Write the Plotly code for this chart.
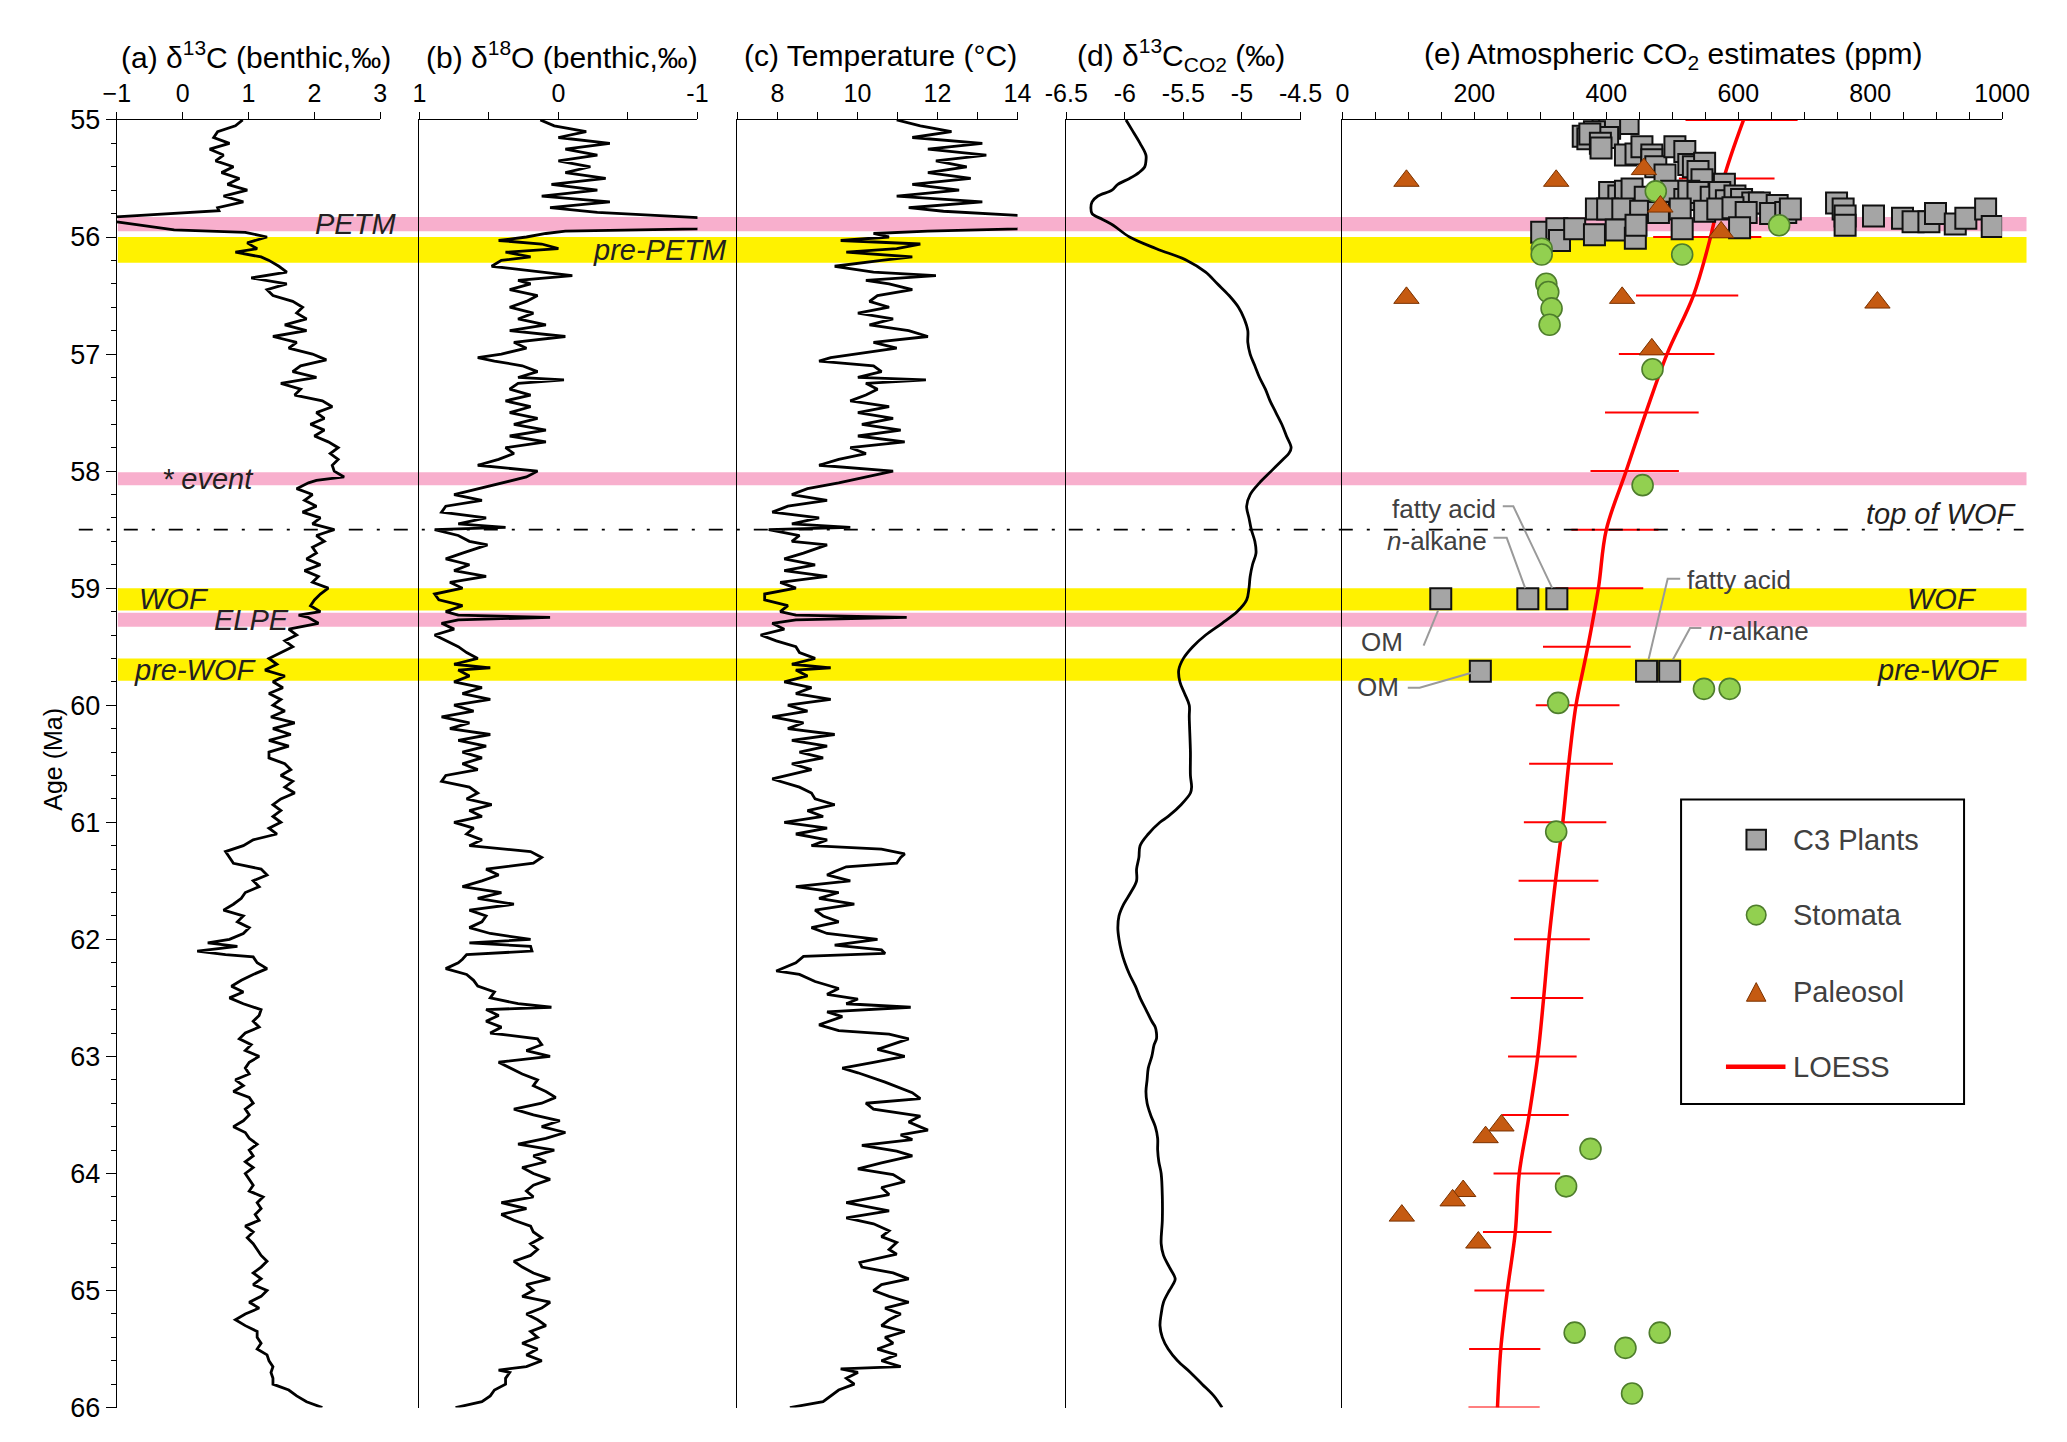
import plotly.graph_objects as go

W, H = 2067, 1442
FONT = "Arial, Liberation Sans, Helvetica, sans-serif"

# ---------------- (a) benthic d13C ----------------
age_a = [55.00,55.05,55.10,55.15,55.20,55.25,55.30,55.35,55.40,55.45,55.50,55.55,55.60,55.65,55.70,55.75,
         55.775,55.825,55.845,55.87,55.94,55.96,56.00,56.05,56.10,56.13,56.17,56.20,56.25,56.30,56.35,56.40,
         56.45,56.50,56.55,56.60,56.65,56.70,56.75,56.80,56.85,56.90,56.95,57.00,57.05,57.10,57.15,57.20,
         57.25,57.30,57.35,57.40,57.45,57.50,57.55,57.60,57.65,57.70,57.75,57.80,57.85,57.90,57.95,58.00,
         58.05,58.08,58.10,58.15,58.20,58.25,58.30,58.35,58.40,58.45,58.50,58.55,58.60,58.65,58.70,58.75,
         58.80,58.85,58.90,58.95,59.00,59.05,59.10,59.15,59.20,59.23,59.25,59.30,59.35,59.40,59.45,59.50,
         59.55,59.60,59.65,59.70,59.75,59.80,59.85,59.90,59.95,60.00,60.05,60.10,60.15,60.20,60.25,60.30,
         60.35,60.40,60.45,60.50,60.55,60.60,60.65,60.70,60.75,60.80,60.85,60.90,60.95,61.00,61.05,61.10,
         61.15,61.20,61.25,61.30,61.35,61.40,61.45,61.50,61.55,61.60,61.65,61.70,61.75,61.80,61.85,61.90,
         61.95,62.00,62.03,62.06,62.10,62.13,62.15,62.20,62.25,62.30,62.35,62.40,62.45,62.50,62.55,62.60,
         62.65,62.70,62.75,62.80,62.85,62.90,62.95,63.00,63.05,63.10,63.15,63.20,63.25,63.30,63.35,63.40,
         63.45,63.50,63.55,63.60,63.65,63.70,63.75,63.80,63.85,63.90,63.95,64.00,64.05,64.10,64.15,64.20,
         64.25,64.30,64.35,64.40,64.45,64.50,64.55,64.60,64.65,64.70,64.75,64.80,64.85,64.90,64.95,65.00,
         65.05,65.10,65.15,65.20,65.25,65.30,65.35,65.40,65.45,65.50,65.55,65.60,65.65,65.70,65.75,65.80,
         65.85,65.90,65.95,66.00]
d13c = [0.91,0.80,0.53,0.47,0.71,0.41,0.62,0.50,0.77,0.59,0.86,0.68,0.98,0.62,0.92,0.53,
        0.55,-1.0,-1.5,-1.0,-0.13,0.95,1.28,0.98,1.13,0.80,1.19,1.31,1.46,1.58,1.04,1.58,
        1.28,1.37,1.67,1.82,1.73,1.88,1.55,1.88,1.37,1.73,1.61,1.97,2.18,1.79,1.67,2.03,
        1.49,1.79,1.70,2.12,2.27,2.03,2.15,1.94,2.15,2.00,2.21,2.36,2.24,2.36,2.27,2.30,
        2.45,2.03,1.91,1.73,1.97,1.85,2.03,1.82,2.09,1.97,2.30,2.03,2.15,1.97,2.03,1.88,
        2.09,1.85,2.06,1.97,2.21,2.09,2.00,1.94,2.09,1.76,1.91,2.06,1.61,1.73,1.55,1.67,
        1.49,1.31,1.43,1.25,1.55,1.37,1.52,1.31,1.49,1.37,1.55,1.34,1.70,1.37,1.64,1.31,
        1.61,1.31,1.31,1.55,1.64,1.49,1.67,1.55,1.70,1.49,1.37,1.49,1.37,1.49,1.31,1.43,
        1.07,0.92,0.65,0.71,0.77,1.19,1.28,1.07,1.16,0.95,0.89,0.77,0.62,0.92,0.83,1.01,
        0.92,0.71,0.38,0.83,0.22,0.65,1.07,1.13,1.28,1.07,0.89,0.74,0.92,0.71,0.92,1.19,
        1.16,1.07,1.16,0.95,0.86,1.04,0.95,1.16,1.01,0.95,1.01,0.80,0.92,0.77,1.01,1.07,
        0.95,1.01,0.92,0.77,0.95,1.01,1.13,1.01,1.07,0.95,1.07,0.95,1.01,1.07,1.01,1.22,
        1.13,1.19,1.10,1.16,0.95,1.07,0.98,1.07,1.13,1.19,1.28,1.19,1.07,1.19,1.07,1.28,
        1.19,1.01,1.16,0.95,0.80,0.95,1.13,1.13,1.19,1.13,1.28,1.31,1.37,1.34,1.37,1.37,
        1.61,1.73,1.88,2.12]

# ---------------- (b) benthic d18O ----------------
age_b = [55.00,55.05,55.10,55.15,55.20,55.25,55.30,55.35,55.40,55.45,55.50,55.55,55.60,55.65,55.70,55.75,
         55.79,55.82,55.87,55.93,55.95,55.97,56.00,56.03,56.06,56.10,56.13,56.17,56.20,56.25,56.30,56.33,
         56.37,56.40,56.45,56.50,56.55,56.60,56.65,56.70,56.75,56.80,56.85,56.90,56.95,57.00,57.03,57.06,
         57.10,57.15,57.20,57.22,57.25,57.30,57.35,57.40,57.45,57.50,57.55,57.60,57.65,57.70,57.75,57.80,
         57.85,57.90,57.95,58.00,58.05,58.10,58.15,58.20,58.25,58.30,58.35,58.40,58.45,58.48,58.50,58.55,
         58.60,58.63,58.70,58.75,58.80,58.85,58.90,58.95,59.00,59.05,59.10,59.15,59.20,59.23,59.25,59.27,
         59.30,59.35,59.40,59.45,59.50,59.55,59.60,59.65,59.68,59.70,59.75,59.80,59.85,59.90,59.95,60.00,
         60.05,60.10,60.15,60.20,60.25,60.30,60.35,60.40,60.45,60.50,60.55,60.60,60.65,60.70,60.75,60.80,
         60.85,60.90,60.95,61.00,61.05,61.10,61.15,61.20,61.25,61.30,61.35,61.40,61.45,61.50,61.55,61.60,
         61.65,61.70,61.75,61.80,61.85,61.90,61.95,62.00,62.03,62.06,62.10,62.13,62.17,62.20,62.25,62.30,
         62.35,62.40,62.45,62.50,62.55,62.58,62.60,62.65,62.70,62.75,62.80,62.85,62.90,62.95,63.00,63.05,
         63.10,63.15,63.20,63.25,63.30,63.35,63.40,63.45,63.50,63.55,63.60,63.65,63.70,63.75,63.80,63.85,
         63.90,63.95,64.00,64.05,64.10,64.15,64.20,64.25,64.30,64.35,64.40,64.45,64.50,64.55,64.60,64.65,
         64.70,64.75,64.80,64.85,64.90,64.95,65.00,65.05,65.10,65.15,65.20,65.25,65.30,65.35,65.40,65.45,
         65.50,65.55,65.60,65.65,65.68,65.70,65.75,65.80,65.85,65.90,65.95,66.00]
d18o = [0.13,0.03,-0.20,0.00,-0.37,-0.05,-0.28,0.00,-0.23,-0.05,-0.34,0.05,-0.28,0.12,-0.37,0.06,
        -0.28,-1.0,-1.6,-1.0,-0.05,0.09,0.23,0.43,0.12,0.00,0.38,0.20,0.41,0.48,0.12,-0.10,
        0.29,0.20,0.35,0.15,0.23,0.35,0.18,0.29,0.09,0.35,-0.05,0.32,0.23,0.41,0.58,0.46,
        0.26,0.15,0.29,-0.04,0.29,0.35,0.20,0.38,0.20,0.35,0.15,0.32,0.09,0.35,0.09,0.38,
        0.32,0.43,0.58,0.15,0.23,0.41,0.58,0.75,0.55,0.81,0.84,0.52,0.72,0.38,0.89,0.72,
        0.64,0.51,0.69,0.81,0.64,0.75,0.52,0.78,0.69,0.89,0.86,0.69,0.81,0.72,0.06,0.72,
        0.84,0.75,0.89,0.81,0.72,0.66,0.58,0.75,0.49,0.72,0.64,0.75,0.55,0.69,0.49,0.75,
        0.61,0.84,0.64,0.78,0.49,0.72,0.52,0.69,0.55,0.69,0.58,0.81,0.84,0.64,0.58,0.66,
        0.48,0.64,0.55,0.75,0.61,0.66,0.55,0.64,0.20,0.12,0.18,0.52,0.43,0.55,0.69,0.41,
        0.58,0.32,0.64,0.52,0.55,0.64,0.49,0.20,0.64,0.20,0.19,0.66,0.69,0.72,0.81,0.66,
        0.61,0.58,0.46,0.49,0.29,0.05,0.52,0.43,0.52,0.41,0.49,0.15,0.12,0.23,0.06,0.43,
        0.35,0.26,0.15,0.18,0.09,0.02,0.12,0.32,0.18,-0.01,0.12,-0.05,0.09,0.29,0.03,0.18,
        0.09,0.26,0.18,0.06,0.18,0.23,0.18,0.41,0.23,0.41,0.32,0.20,0.18,0.12,0.20,0.15,
        0.20,0.32,0.26,0.18,0.06,0.23,0.18,0.26,0.06,0.12,0.23,0.15,0.09,0.20,0.15,0.26,
        0.15,0.23,0.12,0.23,0.43,0.35,0.38,0.38,0.46,0.49,0.55,0.74]

# ---------------- (c) temperature ----------------
age_c = [55.00,55.05,55.10,55.15,55.20,55.25,55.30,55.35,55.40,55.45,55.50,55.55,55.60,55.65,55.70,55.75,
         55.78,55.815,55.87,55.93,55.95,55.97,56.00,56.03,56.06,56.10,56.13,56.17,56.20,56.25,56.30,56.33,
         56.37,56.40,56.45,56.50,56.55,56.60,56.65,56.70,56.75,56.80,56.85,56.90,56.95,57.00,57.03,57.06,
         57.10,57.15,57.20,57.22,57.25,57.30,57.35,57.40,57.45,57.50,57.55,57.60,57.65,57.70,57.75,57.80,
         57.85,57.90,57.95,58.00,58.05,58.10,58.15,58.20,58.25,58.30,58.35,58.40,58.45,58.48,58.50,58.55,
         58.60,58.63,58.70,58.75,58.80,58.85,58.90,58.95,59.00,59.05,59.10,59.15,59.20,59.23,59.25,59.27,
         59.30,59.35,59.40,59.45,59.50,59.55,59.60,59.65,59.68,59.70,59.75,59.80,59.85,59.90,59.95,60.00,
         60.05,60.10,60.15,60.20,60.25,60.30,60.35,60.40,60.45,60.50,60.55,60.60,60.63,60.70,60.75,60.80,
         60.85,60.90,60.95,61.00,61.05,61.10,61.15,61.20,61.23,61.27,61.30,61.35,61.38,61.42,61.45,61.50,
         61.55,61.60,61.65,61.70,61.75,61.80,61.85,61.90,61.95,62.00,62.05,62.09,62.12,62.145,62.20,62.27,
         62.30,62.36,62.42,62.47,62.51,62.55,62.58,62.62,62.66,62.73,62.78,62.81,62.85,62.94,63.00,63.05,
         63.10,63.14,63.22,63.31,63.36,63.40,63.45,63.51,63.56,63.63,63.67,63.71,63.76,63.81,63.85,63.91,
         63.96,64.01,64.07,64.12,64.18,64.25,64.29,64.32,64.38,64.43,64.49,64.54,64.59,64.65,64.69,64.76,
         64.80,64.85,64.90,64.95,65.00,65.05,65.10,65.15,65.20,65.25,65.30,65.35,65.40,65.45,65.50,65.55,
         65.60,65.65,65.67,65.70,65.75,65.80,65.85,65.90,65.95,66.00]
temp = [10.98,11.57,12.35,11.37,13.12,11.76,13.22,11.96,12.73,11.76,12.83,11.37,12.54,10.98,13.12,11.28,
        12.15,14.0,15.5,14.0,11.76,10.40,10.79,9.58,11.57,10.98,9.72,11.37,10.60,9.43,10.40,11.96,
        10.21,10.79,11.37,10.50,10.30,10.79,10.01,10.89,10.30,11.28,11.76,10.40,10.98,10.01,9.33,9.04,
        10.40,10.60,10.01,11.71,10.21,10.50,10.21,9.82,10.79,10.01,10.89,10.11,11.08,10.01,11.18,9.82,
        10.21,9.53,9.04,10.89,10.21,9.53,8.75,8.36,9.24,8.26,7.87,9.04,8.36,9.82,7.78,8.55,
        8.36,9.24,8.65,8.17,8.94,8.17,9.24,8.07,8.46,7.68,7.68,8.26,8.07,8.46,11.23,8.46,
        7.87,8.17,7.58,7.97,8.46,8.55,8.94,8.36,9.33,8.46,8.75,8.17,8.85,8.46,9.33,8.26,
        8.75,7.87,8.65,8.26,9.43,8.36,9.24,8.55,9.14,8.36,8.85,8.21,7.87,8.55,8.85,8.94,
        9.43,8.75,9.14,8.17,9.24,8.46,9.24,8.85,10.60,11.18,11.08,10.98,9.72,9.43,9.24,9.82,
        8.46,9.53,9.04,9.92,8.94,9.14,9.53,8.85,9.24,10.50,9.43,10.60,10.69,8.65,8.46,7.97,
        8.55,8.94,9.53,9.24,10.01,9.72,11.33,9.24,9.62,9.04,9.53,10.79,11.28,10.50,11.18,10.40,
        9.62,10.01,10.69,11.37,11.57,10.21,10.40,11.57,11.28,11.76,11.08,11.37,10.11,10.98,11.37,10.60,
        10.01,10.89,11.18,10.60,10.79,9.72,10.30,10.79,9.72,10.40,10.79,10.60,10.98,10.79,10.98,10.06,
        10.11,10.89,11.28,10.60,10.40,10.79,11.28,10.69,11.08,10.79,10.60,11.18,10.69,10.89,10.50,10.98,
        10.60,11.08,9.58,10.01,9.72,9.92,9.53,9.33,9.14,8.31]

# ---------------- (d) d13C of CO2 ----------------
age_d = [55.0,55.1,55.2,55.3,55.35,55.4,55.45,55.5,55.55,55.6,55.65,55.7,55.75,55.8,55.85,55.9,
         56.0,56.1,56.2,56.3,56.4,56.5,56.6,56.7,56.8,56.9,57.0,57.1,57.2,57.3,57.4,57.5,
         57.6,57.7,57.8,57.85,57.9,58.0,58.1,58.2,58.3,58.4,58.5,58.6,58.7,58.8,58.9,59.0,
         59.1,59.2,59.3,59.4,59.5,59.6,59.7,59.8,59.9,60.0,60.1,60.4,60.6,60.7,60.75,60.85,
         60.95,61.0,61.1,61.2,61.3,61.4,61.5,61.6,61.7,61.8,61.9,62.0,62.1,62.2,62.3,62.4,
         62.5,62.6,62.7,62.75,62.8,62.85,62.9,63.0,63.1,63.2,63.3,63.4,63.5,63.6,63.7,63.8,
         63.9,64.0,64.2,64.4,64.6,64.7,64.8,64.9,64.95,65.0,65.1,65.2,65.3,65.4,65.5,65.6,
         65.7,65.8,65.9,66.0]
d13c_co2 = [-5.99,-5.93,-5.87,-5.82,-5.82,-5.83,-5.88,-5.96,-6.06,-6.11,-6.23,-6.28,-6.29,-6.28,-6.19,-6.10,
            -5.96,-5.73,-5.47,-5.31,-5.21,-5.11,-5.03,-4.98,-4.95,-4.95,-4.93,-4.89,-4.85,-4.80,-4.76,-4.71,
            -4.66,-4.62,-4.58,-4.60,-4.65,-4.75,-4.85,-4.93,-4.96,-4.94,-4.92,-4.89,-4.88,-4.91,-4.93,-4.94,
            -4.96,-5.04,-5.17,-5.31,-5.42,-5.50,-5.54,-5.53,-5.49,-5.45,-5.45,-5.44,-5.44,-5.43,-5.44,-5.52,
            -5.63,-5.70,-5.80,-5.87,-5.88,-5.90,-5.90,-5.95,-6.01,-6.05,-6.06,-6.05,-6.03,-6.00,-5.96,-5.91,
            -5.87,-5.82,-5.77,-5.74,-5.73,-5.73,-5.75,-5.77,-5.80,-5.81,-5.82,-5.81,-5.78,-5.74,-5.72,-5.72,
            -5.71,-5.69,-5.68,-5.68,-5.69,-5.67,-5.62,-5.57,-5.59,-5.62,-5.67,-5.69,-5.70,-5.68,-5.63,-5.55,
            -5.44,-5.34,-5.24,-5.17]

# ---------------- (e) CO2 proxies ----------------
c3_ppm = [433,395,405,382,365,372,402,375,391,392,429,445,454,469,469,475,489,504,519,525,532,549,539,545,579,
          405,419,429,439,459,485,499,519,525,539,559,572,582,595,605,622,632,659,
          385,402,425,452,479,512,549,569,592,612,649,672,679,749,759,762,762,805,849,865,889,899,929,945,975,985,
          302,325,329,352,382,415,444,445,515,602,
          149,281,325,209,461,496]
c3_age = [55.03,55.04,55.07,55.10,55.14,55.16,55.15,55.12,55.20,55.24,55.30,55.29,55.23,55.30,55.34,55.40,55.47,55.23,55.27,55.38,55.40,55.37,55.44,55.51,55.55,
          55.62,55.65,55.61,55.59,55.66,55.64,55.61,55.68,55.61,55.62,55.66,55.62,55.69,55.65,55.68,55.71,55.71,55.73,
          55.76,55.76,55.76,55.78,55.79,55.76,55.78,55.76,55.75,55.79,55.80,55.79,55.76,55.71,55.76,55.82,55.90,55.82,55.84,55.87,55.87,55.80,55.89,55.84,55.76,55.91,
          55.96,55.93,56.03,55.93,55.98,55.94,56.01,55.90,55.93,55.92,
          59.09,59.09,59.09,59.71,59.71,59.71]

stom_ppm = [475,662,302,302,515,309,312,317,314,470,455,327,548,587,324,376,339,352,429,481,439]
stom_age = [55.61,55.90,56.10,56.15,56.15,56.40,56.47,56.61,56.75,57.13,58.12,59.98,59.86,59.86,61.08,
            63.79,64.11,65.36,65.49,65.36,65.88]

pal_ppm = [97,324,457,482,574,97,424,811,469,241,217,183,167,90,206]
pal_age = [55.52,55.52,55.42,55.74,55.96,56.52,56.52,56.56,56.96,63.59,63.69,64.15,64.23,64.36,64.59]

loess_age = [55.0,55.5,56.0,56.5,57.0,57.5,58.0,58.5,59.0,59.5,60.0,60.5,61.0,61.5,62.0,62.5,
             63.0,63.5,64.0,64.5,65.0,65.5,66.0]
loess_ppm = [608,578,558,532,492,460,430,400,388,372,354,343,334,323,313,305,296,283,268,262,250,240,235]
loess_lo = [520,510,471,445,419,398,376,347,323,304,293,283,275,267,260,255,251,242,229,213,200,192,191]
loess_hi = [690,655,635,600,564,540,510,479,456,437,420,410,400,388,375,365,355,343,330,317,306,300,299]

# event bands (age limits)
band_top = [55.83, 56.00, 58.01, 59.00, 59.21, 59.60]
band_bot = [55.95, 56.22, 58.12, 59.19, 59.33, 59.79]
band_kind = ["pink", "yellow", "pink", "yellow", "pink", "yellow"]
top_of_wof = 58.5

legend_names = ["C3 Plants", "Stomata", "Paleosol", "LOESS"]

PINK = "#f8afcd"
YELLOW = "#fff200"
C3_FILL, C3_EDGE = "#a5a5a5", "#111111"
ST_FILL, ST_EDGE = "#92d050", "#4e7d2c"
PA_FILL, PA_EDGE = "#c55a11", "#7a3200"
RED = "#ff0000"


def px(x):
    return x / W


def py(y):
    return 1 - y / H


doms = [[px(89), px(359)], [px(399), px(684)], [px(725), px(1012)], [px(1062), px(1302)], [px(1345), px(2021)]]
YD = [py(1414), py(99)]

fig = go.Figure()
line_style = dict(color="black", width=2.8)
fig.add_trace(go.Scatter(x=d13c, y=age_a, xaxis="x", yaxis="y", mode="lines", line=line_style, showlegend=False))
fig.add_trace(go.Scatter(x=d18o, y=age_b, xaxis="x2", yaxis="y2", mode="lines", line=line_style, showlegend=False))
fig.add_trace(go.Scatter(x=temp, y=age_c, xaxis="x3", yaxis="y3", mode="lines", line=line_style, showlegend=False))
fig.add_trace(go.Scatter(x=d13c_co2, y=age_d, xaxis="x4", yaxis="y4", mode="lines",
                         line=dict(color="black", width=2.8, shape="spline"), showlegend=False))

fig.add_trace(go.Scatter(x=loess_ppm, y=loess_age, xaxis="x5", yaxis="y5", mode="lines", name=legend_names[3],
                         showlegend=False,
                         line=dict(color=RED, width=3.5, shape="spline"),
                         error_x=dict(type="data", symmetric=False,
                                      array=[h - c for h, c in zip(loess_hi, loess_ppm)],
                                      arrayminus=[c - l for c, l in zip(loess_ppm, loess_lo)],
                                      color=RED, thickness=2, width=0)))
fig.add_trace(go.Scatter(x=c3_ppm, y=c3_age, xaxis="x5", yaxis="y5", mode="markers", name=legend_names[0],
                         showlegend=False,
                         marker=dict(symbol="square", size=21, color=C3_FILL, line=dict(color=C3_EDGE, width=2))))
fig.add_trace(go.Scatter(x=stom_ppm, y=stom_age, xaxis="x5", yaxis="y5", mode="markers", name=legend_names[1],
                         showlegend=False,
                         marker=dict(symbol="circle", size=21, color=ST_FILL, line=dict(color=ST_EDGE, width=1.6))))
fig.add_trace(go.Scatter(x=pal_ppm, y=pal_age, xaxis="x5", yaxis="y5", mode="markers", name=legend_names[2],
                         showlegend=False,
                         marker=dict(symbol="triangle-up", size=22, color=PA_FILL, line=dict(color=PA_EDGE, width=1))))

tickfont = dict(family=FONT, size=25, color="black")
common_x = dict(side="top", showline=True, linecolor="black", linewidth=1.4, ticks="outside", ticklen=7,
                tickwidth=1.4, tickcolor="black", showgrid=False, zeroline=False, tickfont=tickfont, fixedrange=True)
minor_x = dict(ticks="outside", ticklen=7, tickwidth=1.4, tickcolor="black", showgrid=False)

layout = dict(
    width=W, height=H, margin=dict(l=0, r=0, t=0, b=0), showlegend=False,
    paper_bgcolor="white", plot_bgcolor="rgba(0,0,0,0)",
    font=dict(family=FONT, color="black"),
    xaxis=dict(domain=doms[0], range=[-1, 3], anchor="y", tickvals=[-1, 0, 1, 2, 3], **common_x),
    xaxis2=dict(domain=doms[1], range=[1, -1], anchor="y2", tickvals=[1, 0, -1], ticktext=["1", "0", "-1"],
                minor=dict(dtick=0.5, tick0=-1, **minor_x), **common_x),
    xaxis3=dict(domain=doms[2], range=[7, 14], anchor="y3", tickvals=[8, 10, 12, 14],
                minor=dict(dtick=1, tick0=7, **minor_x), **common_x),
    xaxis4=dict(domain=doms[3], range=[-6.5, -4.5], anchor="y4", tickvals=[-6.5, -6, -5.5, -5, -4.5],
                ticktext=["-6.5", "-6", "-5.5", "-5", "-4.5"], **common_x),
    xaxis5=dict(domain=doms[4], range=[0, 1000], anchor="y5", tickvals=list(range(0, 1001, 200)),
                minor=dict(dtick=50, tick0=0, **minor_x), **common_x),
    yaxis=dict(domain=YD, range=[66, 55], anchor="x", tickvals=list(range(55, 67)), showline=True,
               linecolor="black", linewidth=1.4, ticks="outside", ticklen=10, tickwidth=1.4, tickcolor="black",
               tickfont=dict(family=FONT, size=27, color="black"), showgrid=False, zeroline=False,
               fixedrange=True,
               minor=dict(dtick=0.2, tick0=55, ticks="outside", ticklen=5, tickwidth=1.2, tickcolor="black",
                          showgrid=False)),
)
for i in range(2, 6):
    layout["yaxis%d" % i] = dict(domain=YD, range=[66, 55], anchor="x%d" % i, showline=True, linecolor="black",
                                 linewidth=1.2, ticks="", showticklabels=False, showgrid=False, zeroline=False,
                                 fixedrange=True)
fig.update_layout(**layout)

shapes = []
for a0, a1, k in zip(band_top, band_bot, band_kind):
    shapes.append(dict(type="rect", xref="paper", yref="y", x0=px(90), x1=px(2046), y0=a0, y1=a1,
                       fillcolor=PINK if k == "pink" else YELLOW, line=dict(width=0), layer="below"))
shapes.append(dict(type="line", xref="paper", yref="y", x0=px(50), x1=px(2043), y0=top_of_wof, y1=top_of_wof,
                   line=dict(color="black", width=1.6, dash="14px,14px,3px,14px"), layer="above"))
# legend frame and symbols (legend drawn by hand)
shapes.append(dict(type="rect", xref="paper", yref="paper", x0=px(1692), x1=px(1982), y0=py(1104), y1=py(793),
                   line=dict(color="black", width=2), fillcolor="white", layer="below"))
LX = 1769
leg_y = [834, 911, 990, 1066]
shapes.append(dict(type="rect", xref="paper", yref="paper", x0=px(LX - 10), x1=px(LX + 10),
                   y0=py(leg_y[0] + 10), y1=py(leg_y[0] - 10), fillcolor=C3_FILL, line=dict(color=C3_EDGE, width=2)))
shapes.append(dict(type="circle", xref="paper", yref="paper", x0=px(LX - 10), x1=px(LX + 10),
                   y0=py(leg_y[1] + 10), y1=py(leg_y[1] - 10), fillcolor=ST_FILL,
                   line=dict(color=ST_EDGE, width=1.6)))
shapes.append(dict(type="path", xref="paper", yref="paper",
                   path="M %f,%f L %f,%f L %f,%f Z" % (px(LX - 10), py(leg_y[2] + 9), px(LX + 10), py(leg_y[2] + 9),
                                                       px(LX), py(leg_y[2] - 10)),
                   fillcolor=PA_FILL, line=dict(color=PA_EDGE, width=1)))
shapes.append(dict(type="line", xref="paper", yref="paper", x0=px(1738), x1=px(1799), y0=py(leg_y[3]),
                   y1=py(leg_y[3]), line=dict(color=RED, width=4.5)))
# leader lines for labelled C3 points (panel e data coordinates)
leaders = [
    ([243, 259, 318], [58.30, 58.30, 59.00]),
    ([229, 249, 277], [58.57, 58.57, 59.00]),
    ([123, 145], [59.49, 59.19]),
    ([99, 117, 197], [59.85, 59.85, 59.72]),
    ([512, 493, 464], [58.92, 58.92, 59.61]),
    ([544, 527, 501], [59.34, 59.34, 59.61]),
]
for xs, ys in leaders:
    path = "M %s,%s " % (xs[0], ys[0]) + " ".join("L %s,%s" % (x, y) for x, y in zip(xs[1:], ys[1:]))
    shapes.append(dict(type="path", xref="x5", yref="y5", path=path, line=dict(color="#9a9a9a", width=2)))
fig.update_layout(shapes=shapes)

ann = []
titles = ["(a) δ<sup>13</sup>C (benthic,‰)", "(b) δ<sup>18</sup>O (benthic,‰)", "(c) Temperature (°C)",
          "(d) δ<sup>13</sup>C<sub>CO2</sub> (‰)", "(e) Atmospheric CO<sub>2</sub> estimates (ppm)"]
title_x = [232, 545, 872, 1180, 1684]
for t, xc in zip(titles, title_x):
    ann.append(dict(text=t, xref="paper", yref="paper", x=px(xc), y=py(33), showarrow=False,
                    xanchor="center", yanchor="middle", font=dict(family=FONT, size=30, color="black")))
ann.append(dict(text="Age (Ma)", xref="paper", yref="paper", x=px(24), y=py(752), textangle=-90, showarrow=False,
                xanchor="center", yanchor="middle", font=dict(family=FONT, size=25, color="black")))
ital = dict(family=FONT, size=29, color="#231f20")
band_labels = [("<i>PETM</i>", px(334), 55.89, "center"), ("<i>pre-PETM</i>", px(646), 56.11, "center"),
               ("<i>* event</i>", px(182), 58.065, "center"), ("<i>WOF</i>", px(148), 59.095, "center"),
               ("<i>ELPE</i>", px(227), 59.27, "center"), ("<i>pre-WOF</i>", px(170), 59.70, "center"),
               ("<i>top of WOF</i>", px(2038), 58.37, "right"), ("<i>WOF</i>", px(1997), 59.095, "right"),
               ("<i>pre-WOF</i>", px(2021), 59.70, "right")]
for t, x, y, xa in band_labels:
    ann.append(dict(text=t, xref="paper", yref="y", x=x, y=y, showarrow=False, xanchor=xa, yanchor="middle",
                    font=ital))
lab = dict(family=FONT, size=26, color="#404040")
point_labels = [("fatty acid", 236, 58.32, "right"), ("<i>n</i>-alkane", 222, 58.60, "right"),
                ("OM", 95, 59.46, "right"), ("OM", 88, 59.84, "right"),
                ("fatty acid", 519, 58.93, "left"), ("<i>n</i>-alkane", 553, 59.37, "left")]
for t, x, y, xa in point_labels:
    ann.append(dict(text=t, xref="x5", yref="y5", x=x, y=y, showarrow=False, xanchor=xa, yanchor="middle",
                    font=lab))
for name, yy in zip(legend_names, leg_y):
    ann.append(dict(text=name, xref="paper", yref="paper", x=px(1805), y=py(yy), showarrow=False,
                    xanchor="left", yanchor="middle", font=dict(family=FONT, size=29, color="#404040")))
fig.update_layout(annotations=ann)

fig.write_html("out.html")
